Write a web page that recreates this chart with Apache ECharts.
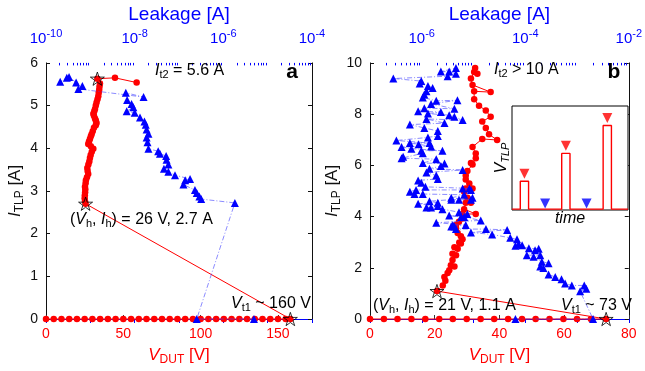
<!DOCTYPE html>
<html>
<head>
<meta charset="utf-8">
<script src="https://cdn.jsdelivr.net/npm/echarts@6/dist/echarts.min.js"></script>
<style>
  html, body { margin: 0; background: #fff; }
  #chart { width: 645px; height: 371px; }
</style>
</head>
<body>
<div id="chart"></div>
<script>
// ---- panel a ----
// V_DUT [V] of the pulses before triggering (I_TLP ~ 0)
const preVA = [0, 5, 10, 15, 20, 25, 30, 35, 40, 45, 50, 55, 60, 65, 70, 75, 80, 85, 90, 95,
  100, 105, 110, 115, 120, 125, 130, 135, 140, 145, 150, 155];
const trigA = [158, 0];     // V_t1
const holdA = [25.6, 2.7];  // (V_h, I_h)
// snapback branch [V_DUT, I_TLP]
const snapA = [[25.2, 2.76], [25.0, 2.83], [25.1, 2.90], [25.3, 2.97], [25.4, 3.04], [25.2, 3.10], [25.6, 3.18],
  [25.8, 3.25], [26.5, 3.32], [27.3, 3.40], [26.9, 3.47], [26.7, 3.54], [27.4, 3.62], [28.0, 3.69], [28.4, 3.77],
  [28.9, 3.84], [29.6, 3.92], [30.6, 3.99], [29.0, 4.05], [27.3, 4.10], [27.8, 4.16], [28.4, 4.22], [29.0, 4.28],
  [29.5, 4.33], [30.2, 4.40], [31.0, 4.48], [32.2, 4.54], [32.7, 4.59], [32.2, 4.65], [31.7, 4.70], [31.0, 4.76],
  [30.6, 4.81], [31.2, 4.87], [31.7, 4.92], [32.2, 5.00], [32.7, 5.07], [33.3, 5.15], [33.8, 5.22], [34.1, 5.30],
  [34.4, 5.37], [34.6, 5.45], [34.9, 5.52]];
const failA = [[33.2, 5.63], [44.6, 5.65], [58.6, 5.54]];  // first one is I_t2
// leakage, as log10(A), against I_TLP [A]
const leakA = [[-5.31, 0], [-6.60, 0], [-5.74, 2.72], [-6.50, 2.81], [-6.54, 2.87], [-6.60, 2.95], [-6.64, 3.02],
  [-6.90, 3.15], [-6.86, 3.25], [-6.75, 3.28], [-7.09, 3.37], [-7.24, 3.45], [-7.34, 3.52], [-7.24, 3.62],
  [-7.28, 3.73], [-7.29, 3.82], [-7.43, 3.87], [-7.47, 3.93], [-7.69, 3.99], [-7.71, 4.14], [-7.73, 4.25],
  [-7.69, 4.34], [-7.73, 4.44], [-7.75, 4.55], [-7.78, 4.63], [-7.88, 4.72], [-8.00, 4.83], [-8.18, 4.87],
  [-8.03, 4.96], [-8.07, 5.04], [-8.17, 5.13], [-8.20, 5.30], [-7.80, 5.20], [-9.27, 5.39], [-9.18, 5.46],
  [-9.32, 5.54], [-9.48, 5.67], [-9.53, 5.65], [-9.68, 5.56]];

// ---- panel b ----
const preVB = [0, 4.3, 8.5, 12.8, 17.1, 21.4, 25.6, 29.9, 34.2, 38.4, 42.7, 47.0, 51.2, 55.5, 59.8, 64.0, 68.3];
const trigB = [73, 0];
const holdB = [20.7, 1.09];
const snapB = [[22.5, 1.31], [23.3, 1.49], [23.0, 1.64], [24.0, 1.80], [24.5, 1.90], [26.1, 2.05], [25.0, 2.10],
  [25.5, 2.30], [26.6, 2.49], [25.5, 2.55], [27.1, 2.74], [26.1, 2.80], [28.1, 2.95], [27.6, 2.99], [28.6, 3.11],
  [28.1, 3.23], [27.1, 3.36], [26.6, 3.54], [26.6, 3.67], [27.5, 3.80], [28.6, 3.92], [28.6, 4.10], [32.7, 4.10],
  [29.1, 4.29], [29.6, 4.54], [31.2, 4.54], [30.1, 4.73], [29.1, 4.97], [29.6, 5.10], [31.7, 5.10], [30.7, 5.29],
  [29.6, 5.45], [29.6, 5.60], [30.1, 5.78], [31.7, 6.03], [31.2, 6.09], [32.7, 6.28], [32.7, 6.46], [31.7, 6.72],
  [34.7, 7.03], [39.3, 6.99], [36.8, 7.21], [35.8, 7.46], [34.7, 7.71], [37.3, 7.90], [35.8, 8.14], [33.7, 8.33],
  [32.2, 8.58], [32.2, 8.89], [37.3, 8.86], [31.7, 9.14], [31.2, 9.39], [32.2, 9.64], [33.2, 9.58], [32.5, 9.80]];
const leakB = [[-4.19, 0], [-2.69, 0], [-2.94, 1.08], [-2.82, 1.18], [-2.86, 1.31], [-3.10, 1.31], [-3.23, 1.39],
  [-3.30, 1.55], [-3.42, 1.64], [-3.55, 1.74], [-3.65, 1.99], [-3.71, 2.05], [-3.55, 2.18], [-3.68, 2.24],
  [-3.84, 2.43], [-3.71, 2.49], [-3.97, 2.49], [-3.81, 2.68], [-3.74, 2.74], [-3.93, 2.76], [-4.19, 2.86],
  [-4.06, 2.88], [-4.13, 2.92], [-4.16, 3.11], [-4.29, 3.17], [-4.64, 3.30], [-5.05, 3.38], [-4.35, 3.48],
  [-4.76, 3.51], [-5.34, 3.51], [-5.37, 3.61], [-5.43, 3.61], [-5.40, 3.67], [-5.15, 3.67], [-5.72, 3.76],
  [-4.86, 3.85], [-5.18, 3.98], [-5.47, 4.04], [-5.24, 3.98], [-5.12, 4.10], [-5.28, 4.17], [-5.60, 4.29],
  [-5.82, 4.35], [-5.91, 4.35], [-5.69, 4.41], [-6.07, 4.50], [-5.69, 4.54], [-5.85, 4.60], [-5.43, 4.66],
  [-5.28, 4.66], [-5.05, 4.66], [-5.02, 4.73], [-5.43, 4.73], [-5.18, 4.85], [-5.98, 4.88], [-6.14, 4.88],
  [-6.23, 4.97], [-6.11, 5.04], [-5.05, 5.04], [-5.21, 5.10], [-5.08, 5.10], [-5.93, 5.16], [-6.01, 5.32],
  [-6.07, 5.41], [-5.69, 5.47], [-5.72, 5.60], [-5.91, 5.72], [-5.21, 5.82], [-5.85, 5.87], [-5.63, 5.97],
  [-5.56, 6.07], [-5.98, 6.09], [-5.72, 6.24], [-6.39, 6.28], [-6.36, 6.34], [-5.98, 6.47], [-6.01, 6.57],
  [-5.60, 6.57], [-6.20, 6.65], [-6.39, 6.72], [-5.82, 6.74], [-6.06, 6.82], [-6.23, 6.87], [-5.85, 6.87],
  [-6.49, 6.97], [-5.88, 7.09], [-5.69, 7.15], [-5.69, 7.34], [-5.95, 7.46], [-6.23, 7.59], [-5.56, 7.65],
  [-5.91, 7.81], [-5.21, 7.77], [-5.37, 7.90], [-5.47, 7.96], [-5.88, 8.02], [-5.63, 8.08], [-6.07, 8.11],
  [-5.95, 8.23], [-5.37, 8.21], [-5.82, 8.40], [-5.31, 8.54], [-5.72, 8.52], [-5.98, 8.65], [-5.95, 8.77],
  [-5.91, 8.89], [-5.79, 9.02], [-5.88, 9.10], [-6.04, 9.20], [-6.01, 9.29], [-6.55, 9.39], [-5.50, 9.48],
  [-5.34, 9.58], [-5.47, 9.66], [-5.63, 9.66], [-5.34, 9.80]];

// ---- inset: TLP pulse train sketch ----
const pulseStart = [1, 6, 11];
const pulseAmp = [1, 2, 3];
const probeAt = [4, 9];

const FONT = 'Liberation Sans, Arial, sans-serif';
const RED = '#ff0000', BLUE = '#0000ff', INK = '#111';
const STAR = 'path://M0,-10 L2.25,-3.09 L9.51,-3.09 L3.63,1.18 L5.88,8.09 L0,3.82 L-5.88,8.09 L-3.63,1.18 L-9.51,-3.09 L-2.25,-3.09 Z';

const chart = echarts.init(document.getElementById('chart'));

function subRich(size, color) {
  return {
    i: { fontStyle: 'italic', fontSize: size, color: color, fontFamily: FONT },
    n: { fontSize: size, color: color, fontFamily: FONT },
    s: { fontSize: Math.round(size * 0.7), color: color, fontFamily: FONT, padding: [Math.round(size * 0.5), 0, 0, 0] }
  };
}

function bottomAxis(grid, max, step, showMax) {
  return {
    type: 'value', gridIndex: grid, position: 'bottom', min: 0, max: max, interval: step,
    axisLine: { lineStyle: { color: RED, width: 1 } },
    axisTick: { inside: true, length: 4, lineStyle: { color: '#333' } },
    axisLabel: { color: RED, fontSize: 14, fontFamily: FONT, margin: 8, showMaxLabel: showMax },
    splitLine: { show: false },
    name: '{i|V}{s|DUT}{n| [V]}', nameLocation: 'middle', nameGap: 26,
    nameTextStyle: { rich: subRich(17, RED) }
  };
}
function topAxis(grid, lo, hi) {
  return {
    type: 'value', gridIndex: grid, position: 'top', min: lo, max: hi, interval: 1,
    axisLine: { lineStyle: { color: BLUE, width: 1 } },
    axisTick: { inside: true, length: 4, lineStyle: { color: BLUE } },
    axisLabel: {
      margin: 14, fontFamily: FONT, fontSize: 15, color: BLUE,
      formatter: v => (v % 2 === 0 ? '{base|10}{sup|' + v + '}' : ''),
      rich: {
        base: { fontSize: 15, color: BLUE, fontFamily: FONT, lineHeight: 20 },
        sup: { fontSize: 11, color: BLUE, fontFamily: FONT, verticalAlign: 'top', lineHeight: 10 }
      }
    },
    splitLine: { show: false },
    name: 'Leakage [A]', nameLocation: 'middle', nameGap: 33,
    nameTextStyle: { color: BLUE, fontSize: 19, fontFamily: FONT }
  };
}
function leftAxis(grid, max, step) {
  return {
    type: 'value', gridIndex: grid, position: 'left', min: 0, max: max, interval: step,
    axisLine: { lineStyle: { color: INK } },
    axisTick: { inside: true, length: 4, lineStyle: { color: INK } },
    axisLabel: { color: INK, fontSize: 14, fontFamily: FONT, margin: 8 },
    splitLine: { show: false },
    name: '{i|I}{s|TLP}{n| [A]}', nameLocation: 'middle', nameGap: 20, nameRotate: 90,
    nameTextStyle: { rich: subRich(17, INK) }
  };
}
function rightAxis(grid, max, step) {
  return {
    type: 'value', gridIndex: grid, position: 'right', min: 0, max: max, interval: step,
    axisLine: { lineStyle: { color: INK } },
    axisTick: { inside: true, length: 4, lineStyle: { color: INK } },
    axisLabel: { show: false }, splitLine: { show: false }
  };
}

function redSeries(x, y, data) {
  return {
    type: 'line', xAxisIndex: x, yAxisIndex: y, data: data, clip: false,
    symbol: 'circle', symbolSize: 6.5, showSymbol: true,
    itemStyle: { color: RED }, lineStyle: { color: RED, width: 1 }, z: 3
  };
}
function blueSeries(x, y, data) {
  return {
    type: 'line', xAxisIndex: x, yAxisIndex: y, data: data, clip: false,
    symbol: 'triangle', symbolSize: 8, showSymbol: true,
    itemStyle: { color: BLUE },
    lineStyle: { color: 'rgba(60,60,255,0.75)', width: 0.8, type: [5, 2, 1, 2] }, z: 4
  };
}
function starSeries(x, y, data) {
  return {
    type: 'scatter', xAxisIndex: x, yAxisIndex: y, data: data, clip: false,
    symbol: STAR, symbolSize: 14, symbolKeepAspect: true,
    itemStyle: { color: 'rgba(0,0,0,0)', borderColor: '#000', borderWidth: 1 }, z: 6
  };
}
function minorTicks(x, y, lo, hi, yTop) {
  const data = [];
  for (let n = lo; n < hi; n++) for (let k = 2; k <= 9; k++) data.push([n + Math.log10(k), yTop]);
  return {
    type: 'custom', xAxisIndex: x, yAxisIndex: y, data: data, silent: true, clip: false, z: 5,
    renderItem: (p, api) => {
      const c = api.coord([api.value(0), api.value(1)]);
      const px = Math.round(c[0]) + 0.5;
      return { type: 'line', shape: { x1: px, y1: c[1], x2: px, y2: c[1] + 2.5 }, style: { stroke: BLUE, lineWidth: 1 } };
    }
  };
}

const redA = preVA.map(v => [v, 0]).concat([trigA, holdA], snapA, failA);
const redB = preVB.map(v => [v, 0]).concat([trigB, holdB], snapB);

// pulse train outline built from the pulse arrays
const wave = [[0, 0]];
pulseStart.forEach((s, i) => { wave.push([s, 0], [s, pulseAmp[i]], [s + 1, pulseAmp[i]], [s + 1, 0]); });
wave.push([14, 0]);

function txt(x, y, text, extra) {
  return {
    type: 'text', x: x, y: y, silent: true, z: 100,
    style: Object.assign({
      text: text, fill: '#000', fontSize: 16, fontFamily: FONT, align: 'left', verticalAlign: 'middle',
      rich: {
        i: { fontStyle: 'italic', fontSize: 16, fontFamily: FONT },
        s: { fontSize: 11, fontFamily: FONT, padding: [7, 0, 0, 0] },
        si: { fontStyle: 'italic', fontSize: 11, fontFamily: FONT, padding: [7, 0, 0, 0] }
      }
    }, extra || {})
  };
}

chart.setOption({
  animation: false,
  backgroundColor: '#fff',
  grid: [
    { left: 46, top: 52, width: 266, height: 268 },
    { left: 370, top: 52, width: 261, height: 268 },
    { left: 512, top: 106, width: 116, height: 104, show: true, borderColor: '#000', borderWidth: 1, backgroundColor: '#fff', z: 8 }
  ],
  xAxis: [
    bottomAxis(0, 172, 50, false),
    topAxis(0, -10, -4),
    bottomAxis(1, 80, 20, true),
    topAxis(1, -7, -2),
    { type: 'value', gridIndex: 2, min: 0, max: 14, show: false }
  ],
  yAxis: [
    leftAxis(0, 6, 1),
    rightAxis(0, 6, 1),
    leftAxis(1, 10, 2),
    rightAxis(1, 10, 2),
    { type: 'value', gridIndex: 2, min: -0.03, max: 3.7, show: false }
  ],
  series: [
    redSeries(0, 0, redA),
    blueSeries(1, 0, leakA),
    starSeries(0, 0, [trigA, holdA, failA[0]]),
    minorTicks(1, 0, -10, -4, 6),
    redSeries(2, 2, redB),
    blueSeries(3, 2, leakB),
    starSeries(2, 2, [trigB, holdB]),
    minorTicks(3, 2, -7, -2, 10),
    {
      type: 'line', xAxisIndex: 4, yAxisIndex: 4, data: wave, showSymbol: false, z: 9,
      lineStyle: { color: RED, width: 1.4 }
    },
    {
      type: 'scatter', xAxisIndex: 4, yAxisIndex: 4, symbol: 'triangle', symbolRotate: 180, symbolSize: 10, z: 9,
      data: pulseStart.map((s, i) => [s + 0.5, pulseAmp[i] + 0.27]), itemStyle: { color: RED }
    },
    {
      type: 'scatter', xAxisIndex: 4, yAxisIndex: 4, symbol: 'triangle', symbolRotate: 180, symbolSize: 10, z: 9,
      data: probeAt.map(x => [x, 0.2]), itemStyle: { color: BLUE }
    }
  ],
  graphic: [
    txt(155, 71, '{i|I}{s|t2} = 5.6 A'),
    txt(292, 72, 'a', { fontSize: 21, fontWeight: 'bold', align: 'center' }),
    txt(70, 220, '({i|V}{s|h}, {i|I}{s|h}) = 26 V, 2.7 A'),
    txt(231, 304, '{i|V}{s|t1} ~ 160 V'),
    txt(494, 70, '{i|I}{s|t2} > 10 A'),
    txt(614, 72, 'b', { fontSize: 21, fontWeight: 'bold', align: 'center' }),
    txt(373, 306, '({i|V}{s|h}, {i|I}{s|h}) = 21 V, 1.1 A'),
    txt(561, 306, '{i|V}{s|t1} ~ 73 V'),
    Object.assign(txt(502, 158, '{i|V}{si|TLP}', { align: 'center' }), { rotation: Math.PI / 2 }),
    txt(570, 219, 'time', { fontStyle: 'italic', align: 'center' })
  ]
});
</script>
</body>
</html>
